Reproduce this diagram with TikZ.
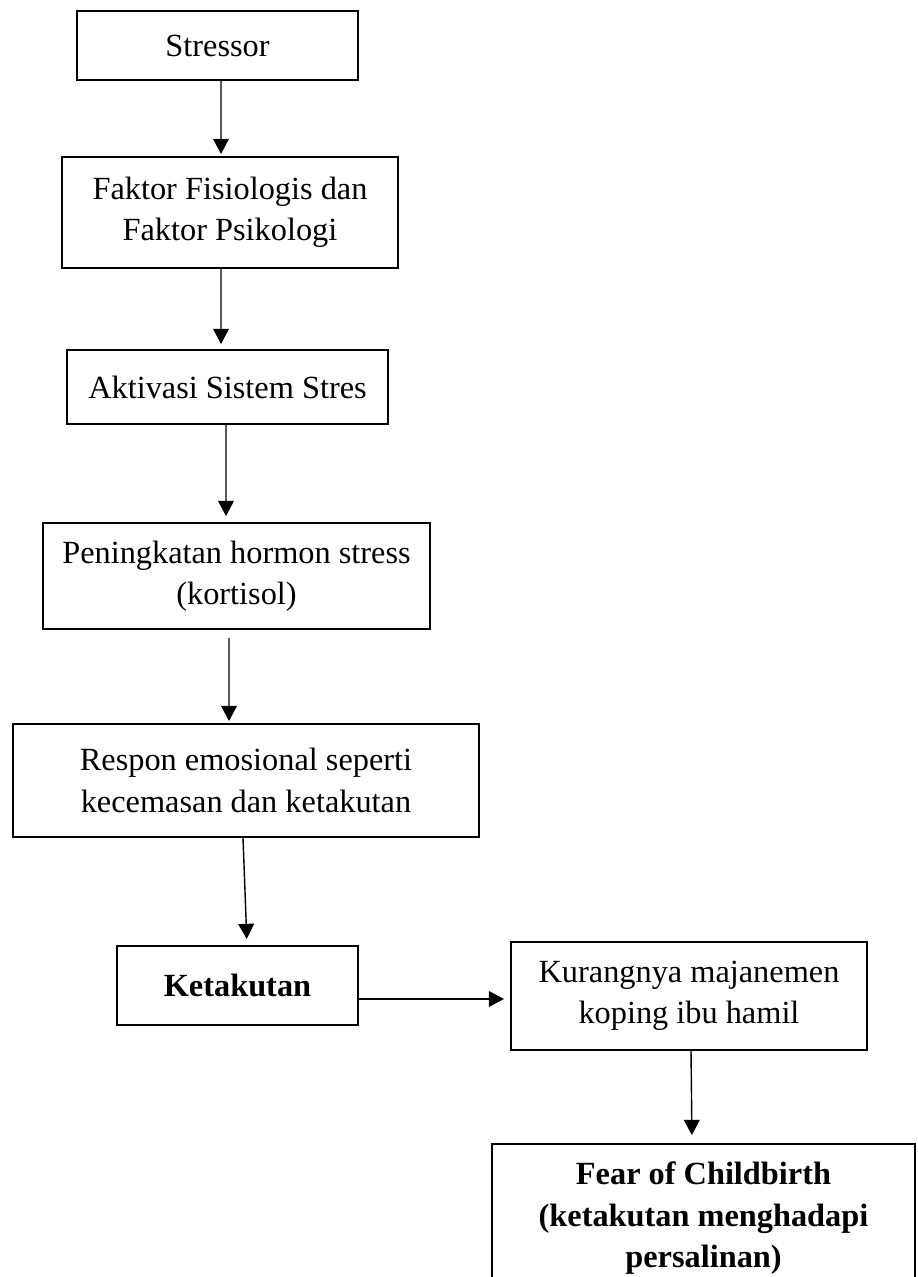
\documentclass[tikz,border=0pt]{standalone}
\usepackage{fontspec}
\setmainfont{Liberation Serif}
\usetikzlibrary{arrows.meta}
\begin{document}
\begin{tikzpicture}[
    box/.style={draw, line width=0.6pt, align=center, inner sep=0pt,
      font=\fontsize{9.2}{11.8}\selectfont},
    arr/.style={-{Triangle[length=4.3pt,width=4.5pt]}, line width=0.4pt}
  ]
  \clip (0,0) rectangle (9.17,-12.77);

  % ボックス
  \node[box, minimum width=2.81cm, minimum height=0.69cm] (stressor) at (2.175,-0.455) {Stressor};
  \node[box, minimum width=3.36cm, minimum height=1.11cm] (faktor) at (2.30,-2.125)
    {Faktor Fisiologis dan\\Faktor Psikologi};
  \node[box, minimum width=3.21cm, minimum height=0.74cm] (aktivasi) at (2.275,-3.87) {Aktivasi Sistem Stres};
  \node[box, minimum width=3.87cm, minimum height=1.06cm] (hormon) at (2.365,-5.76)
    {Peningkatan hormon stress\\(kortisol)};
  \node[box, minimum width=4.66cm, minimum height=1.13cm] (respon) at (2.46,-7.805)
    {Respon emosional seperti\\kecemasan dan ketakutan};
  \node[box, minimum width=2.41cm, minimum height=0.79cm,
    font=\fontsize{9.2}{11.8}\selectfont\bfseries] (takut) at (2.375,-9.855) {Ketakutan};
  \node[box, minimum width=3.56cm, minimum height=1.08cm] (koping) at (6.89,-9.96)
    {Kurangnya majanemen\\koping ibu hamil};
  \node[box, anchor=north, minimum width=4.23cm, inner sep=0.18cm,
    font=\fontsize{9.2}{11.8}\selectfont\bfseries] (fear) at (7.035,-11.43)
    {Fear of Childbirth\\(ketakutan menghadapi\\persalinan)};

  % 矢印
  \draw[arr, shorten >=0.02cm] ([xshift=0.035cm]stressor.south) -- ([xshift=-0.09cm]faktor.north);
  \draw[arr, shorten >=0.05cm] ([xshift=-0.09cm]faktor.south) -- ([xshift=-0.065cm]aktivasi.north);
  \draw[arr, shorten >=0.06cm] ([xshift=-0.015cm]aktivasi.south) -- ([xshift=-0.105cm]hormon.north);
  \draw[arr, shorten <=0.08cm, shorten >=0.02cm] ([xshift=-0.075cm]hormon.south) -- ([xshift=-0.17cm]respon.north);
  \draw[arr, shorten >=0.06cm] ([xshift=-0.03cm]respon.south) -- ([xshift=0.095cm]takut.north);
  \draw[arr, shorten >=0.06cm] ([yshift=-0.135cm]takut.east) -- ([yshift=-0.135cm]takut.east -| koping.west);
  \draw[arr, shorten >=0.08cm] ([xshift=0.02cm]koping.south) -- ([xshift=-0.115cm]fear.north);
\end{tikzpicture}
\end{document}
